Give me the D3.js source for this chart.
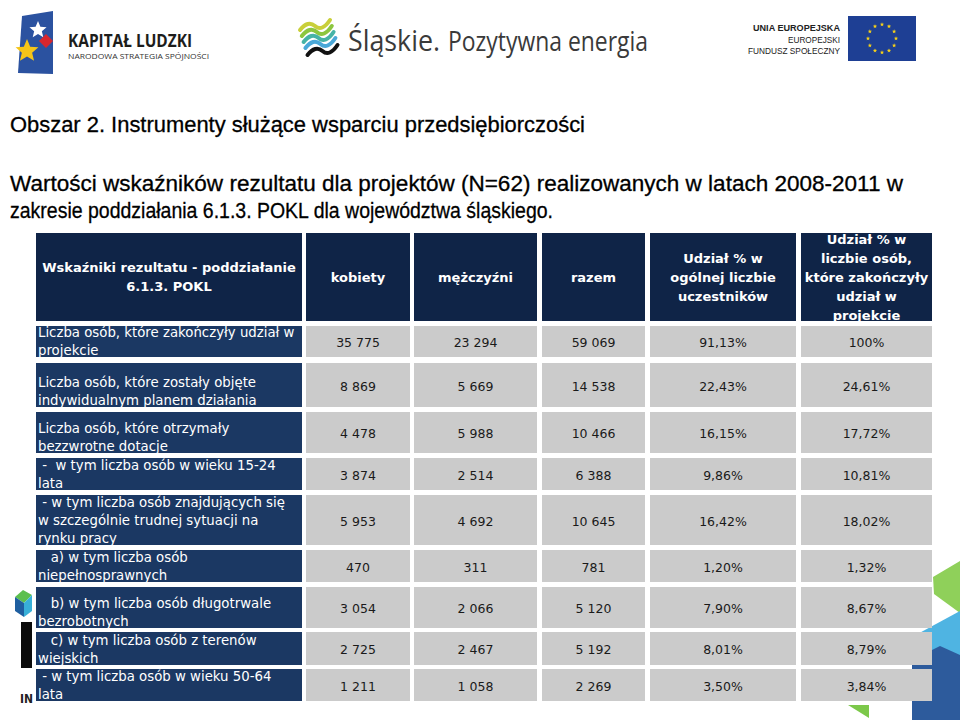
<!DOCTYPE html>
<html>
<head>
<meta charset="utf-8">
<script src="https://cdn.jsdelivr.net/npm/d3@7"></script>
<style>
  body { margin: 0; background: #fff; }
  svg text { white-space: pre; }
</style>
</head>
<body>
<script>
'use strict'

// --- data ---
const rowLabels = [
	["Liczba osób, które zakończyły udział w", "projekcie"],
	["Liczba osób, które zostały objęte", "indywidualnym planem działania"],
	["Liczba osób, które otrzymały", "bezzwrotne dotacje"],
	[" -  w tym liczba osób w wieku 15-24", "lata"],
	[" - w tym liczba osób znajdujących się", "w szczególnie trudnej sytuacji na", "rynku pracy"],
	["   a) w tym liczba osób", "niepełnosprawnych"],
	["   b) w tym liczba osób długotrwale", "bezrobotnych"],
	["   c) w tym liczba osób z terenów", "wiejskich"],
	[" - w tym liczba osób w wieku 50-64", "lata"]
];
const kobiety      = [35775, 8869, 4478, 3874, 5953, 470, 3054, 2725, 1211];
const mezczyzni    = [23294, 5669, 5988, 2514, 4692, 311, 2066, 2467, 1058];
const razem        = [59069, 14538, 10466, 6388, 10645, 781, 5120, 5192, 2269];
const udzialOgolny = [91.13, 22.43, 16.15, 9.86, 16.42, 1.20, 7.90, 8.01, 3.50];
const udzialZakon  = [100, 24.61, 17.72, 10.81, 18.02, 1.32, 8.67, 8.79, 3.84];

const labelHeader = ["Wskaźniki rezultatu - poddziałanie", "6.1.3. POKL"];
const colHeaders = [
	["kobiety"],
	["mężczyźni"],
	["razem"],
	["Udział % w", "ogólnej liczbie", "uczestników"],
	["Udział % w", "liczbie osób,", "które zakończyły", "udział w", "projekcie"]
];

// --- layout ---
const w = 960;
const h = 720;
const colKeys = ["k", "m", "r", "uo", "uz"];
const colLeft = [306, 414, 542, 650, 801];
const colRight = [410, 537, 645, 796, 932];
const rowTop = [326, 363, 412, 458, 495, 550, 587, 632, 669];
const rowBottom = [357, 407, 453, 490, 545, 582, 628, 665, 701];
const headTop = 233, headBottom = 321;
const labelX0 = 36, labelX1 = 302;

const headColor = "#0f2447";
const bodyColor = "#1b3863";
const cellColor = "#cbcbcb";

const pl = d3.formatLocale({decimal: ",", thousands: " ", grouping: [3], currency: ["", " zł"]});
const fmtN = pl.format(",d");
const fmtP = (v) => v === 100 ? "100%" : pl.format(".2f")(v) + "%";

const x0 = d3.scaleOrdinal().domain(colKeys).range(colLeft);
const x1 = d3.scaleOrdinal().domain(colKeys).range(colRight);
const y0 = d3.scaleOrdinal().domain(d3.range(rowLabels.length)).range(rowTop);
const y1 = d3.scaleOrdinal().domain(d3.range(rowLabels.length)).range(rowBottom);

const svg = d3.select("body").append("svg")
	.attr("width", w)
	.attr("height", h);

svg.append("rect").attr("width", w).attr("height", h).attr("fill", "#fff");

// --- logos on top ---
const logo = svg.append("g");
logo.append("path")
	.attr("d", "M22,16 L53,11 L53,74 L18,73 Z")
	.attr("fill", "#2b52a0");
const star = (cx, cy, r) => {
	let pts = [];
	for (let i = 0; i < 10; i++) {
		let a = -Math.PI / 2 + i * Math.PI / 5;
		let rr = i % 2 ? r * 0.45 : r;
		pts.push([cx + rr * Math.cos(a), cy + rr * Math.sin(a)]);
	}
	return "M" + pts.join("L") + "Z";
};
logo.append("path").attr("d", star(38, 30, 9)).attr("fill", "#fff");
logo.append("path").attr("d", "M46,34 L53,41 L46,48 L39,41 Z").attr("fill", "#d7262e");
logo.append("path").attr("d", star(27, 51, 12)).attr("fill", "#f5c518");
logo.append("text").attr("x", 68).attr("y", 47)
	.attr("font-family", "'Open Sans', sans-serif").attr("font-weight", "bold")
	.attr("font-size", 17).attr("fill", "#1d1d1b")
	.attr("textLength", 124).attr("lengthAdjust", "spacingAndGlyphs")
	.text("KAPITAŁ LUDZKI");
logo.append("text").attr("x", 68).attr("y", 59)
	.attr("font-family", "'Open Sans', sans-serif")
	.attr("font-size", 7.5).attr("fill", "#333")
	.attr("textLength", 141).attr("lengthAdjust", "spacingAndGlyphs")
	.text("NARODOWA STRATEGIA SPÓJNOŚCI");

// Śląskie
const waves = [["#c9cf3a", 0], ["#8cc63f", 6], ["#46b3a6", 12], ["#4aa8d8", 18], ["#111", 25]];
waves.forEach(([c, dy]) => {
	svg.append("path")
		.attr("d", `M${300 + dy * 0.3},${30 + dy} q8,-10 15,-4 t15,-6`)
		.attr("fill", "none").attr("stroke", c).attr("stroke-width", 4).attr("stroke-linecap", "round");
});
svg.append("text").attr("x", 348).attr("y", 51)
	.attr("font-family", "'Open Sans', sans-serif").attr("font-size", 30).attr("fill", "#3a3a3a")
	.attr("textLength", 92).attr("lengthAdjust", "spacingAndGlyphs")
	.text("Śląskie.");
svg.append("text").attr("x", 448).attr("y", 51)
	.attr("font-family", "'Open Sans', sans-serif").attr("font-size", 28).attr("fill", "#3a3a3a")
	.attr("textLength", 200).attr("lengthAdjust", "spacingAndGlyphs")
	.text("Pozytywna energia");

// EU
const eu = [["UNIA EUROPEJSKA", 31, "bold", 87], ["EUROPEJSKI", 42.5, "normal", 52], ["FUNDUSZ SPOŁECZNY", 54, "normal", 92]];
eu.forEach(([t, y, fw, tl]) => {
	svg.append("text").attr("x", 840).attr("y", y).attr("text-anchor", "end")
		.attr("font-family", "'Liberation Sans', sans-serif").attr("font-size", 9)
		.attr("font-weight", fw).attr("fill", "#222")
		.attr("textLength", tl).attr("lengthAdjust", "spacingAndGlyphs").text(t);
});
svg.append("rect").attr("x", 848).attr("y", 16).attr("width", 68).attr("height", 45).attr("fill", "#1e3f94");
d3.range(12).forEach((i) => {
	let a = i * Math.PI / 6;
	svg.append("path").attr("d", star(882 + 14 * Math.cos(a), 38.5 + 14 * Math.sin(a), 2.2)).attr("fill", "#f7d117");
});

// --- titles ---
const titles = [
	["Obszar 2. Instrumenty służące wsparciu przedsiębiorczości", 132, 575],
	["Wartości wskaźników rezultatu dla projektów (N=62) realizowanych w latach 2008-2011 w", 191, 893],
	["zakresie poddziałania 6.1.3. POKL dla województwa śląskiego.", 218, 543]
];
svg.selectAll(".title")
	.data(titles)
	.enter()
	.append("text")
	.attr("class", "title")
	.attr("x", 10)
	.attr("y", (d) => d[1])
	.attr("font-family", "'Liberation Sans Narrow', 'Liberation Sans', sans-serif")
	.attr("font-size", 22)
	.attr("fill", "#000")
	.attr("stroke", "#000")
	.attr("stroke-width", 0.3)
	.attr("textLength", (d) => d[2])
	.attr("lengthAdjust", "spacingAndGlyphs")
	.text((d) => d[0]);

// --- decorative shapes ---
const deco = [
	["#8fd05a", "M933,577 L960,561 L960,613 L934,594 Z"],
	["#4fb4e2", "M912,637 L960,611 L960,668 L930,652 Z"],
	["#2d5b9c", "M912,660 L940,646 L960,655 L960,720 L912,720 Z"],
	["#7cc84a", "M848,705 L869,705 L869,718 Z"],
	["#5cbf4f", "M15,597 L23,590 L32,595 L24,603 Z"],
	["#1f5fa0", "M15,597 L24,603 L24,617 L15,611 Z"],
	["#38b0d8", "M24,603 L32,595 L32,611 L24,617 Z"],
	["#0b0b0b", "M21,622 L32,622 L32,668 L21,668 Z"]
];
svg.selectAll(".deco").data(deco).enter().append("path")
	.attr("class", "deco").attr("fill", (d) => d[0]).attr("d", (d) => d[1]);
svg.append("text").attr("x", 20).attr("y", 703)
	.attr("font-family", "'DejaVu Sans', sans-serif").attr("font-weight", "bold")
	.attr("font-size", 13).attr("fill", "#222")
	.attr("textLength", 13).attr("lengthAdjust", "spacingAndGlyphs").text("IN");

// --- table header ---
const font = "'DejaVu Sans', Verdana, sans-serif";
const headMid = (headTop + headBottom) / 2;

svg.append("rect").attr("x", labelX0).attr("y", headTop)
	.attr("width", labelX1 - labelX0).attr("height", headBottom - headTop).attr("fill", headColor);
svg.selectAll(".lh").data(labelHeader).enter().append("text")
	.attr("class", "lh")
	.attr("x", (labelX0 + labelX1) / 2)
	.attr("y", (d, i) => headMid + (i - (labelHeader.length - 1) / 2) * 19)
	.attr("text-anchor", "middle").attr("dominant-baseline", "central")
	.attr("font-family", font).attr("font-weight", "bold").attr("font-size", 13)
	.attr("fill", "#fff").text((d) => d);

const hdr = svg.selectAll(".hdr").data(colKeys).enter().append("g").attr("class", "hdr");
hdr.append("rect")
	.attr("x", (k) => x0(k)).attr("y", headTop)
	.attr("width", (k) => x1(k) - x0(k)).attr("height", headBottom - headTop)
	.attr("fill", headColor);
hdr.each(function(k, ci) {
	let lines = colHeaders[ci];
	d3.select(this).selectAll("text").data(lines).enter().append("text")
		.attr("x", (x0(k) + x1(k)) / 2)
		.attr("y", (d, i) => headMid + (i - (lines.length - 1) / 2) * 19)
		.attr("text-anchor", "middle").attr("dominant-baseline", "central")
		.attr("font-family", font).attr("font-weight", "bold").attr("font-size", 13)
		.attr("fill", "#fff").text((d) => d);
});

// --- table body ---
const rows = rowLabels.map((lab, i) => ({
	i: i,
	label: lab,
	cells: [fmtN(kobiety[i]), fmtN(mezczyzni[i]), fmtN(razem[i]), fmtP(udzialOgolny[i]), fmtP(udzialZakon[i])]
}));

const row = svg.selectAll(".row").data(rows).enter().append("g").attr("class", "row");

row.append("rect")
	.attr("x", labelX0).attr("y", (d) => y0(d.i))
	.attr("width", labelX1 - labelX0).attr("height", (d) => y1(d.i) - y0(d.i))
	.attr("fill", bodyColor);

row.each(function(d) {
	let g = d3.select(this);
	let n = d.label.length;
	g.selectAll(".lab").data(d.label).enter().append("text")
		.attr("class", "lab")
		.attr("x", labelX0 + 2)
		.attr("y", (t, j) => y1(d.i) - 6.5 - (n - 1 - j) * 18)
		.attr("dominant-baseline", "central")
		.attr("font-family", font).attr("font-size", 13.3)
		.attr("fill", "#fff").text((t) => t);

	g.selectAll(".cell").data(colKeys).enter().append("rect")
		.attr("class", "cell")
		.attr("x", (k) => x0(k)).attr("y", y0(d.i))
		.attr("width", (k) => x1(k) - x0(k)).attr("height", y1(d.i) - y0(d.i))
		.attr("fill", cellColor);

	g.selectAll(".val").data(colKeys).enter().append("text")
		.attr("class", "val")
		.attr("x", (k) => (x0(k) + x1(k)) / 2)
		.attr("y", (y0(d.i) + y1(d.i)) / 2 + 1)
		.attr("text-anchor", "middle").attr("dominant-baseline", "central")
		.attr("font-family", font).attr("font-size", 12.5)
		.attr("fill", "#1a1a1a").text((k, j) => d.cells[j]);
});
</script>
</body>
</html>
